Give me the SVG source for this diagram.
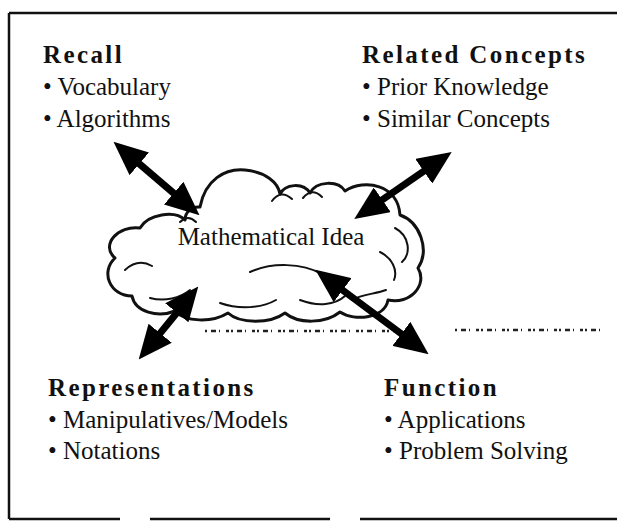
<svg xmlns="http://www.w3.org/2000/svg" width="617" height="522" viewBox="0 0 617 522">
<style>
.h{font-family:"Liberation Serif","Times New Roman",serif;font-size:25px;font-weight:bold;fill:#111;letter-spacing:2.4px}
.t{font-family:"Liberation Serif","Times New Roman",serif;font-size:25px;fill:#111}
.frame{stroke:#111;stroke-width:2.5;fill:none}
.cloud{fill:#fff;stroke:#111;stroke-width:3;stroke-linejoin:round}
.inner{fill:none;stroke:#111;stroke-width:2;stroke-linecap:round}
.shaft{stroke:#000;stroke-width:7;fill:none}
.noise{stroke:#222;stroke-width:2.5;fill:none;stroke-dasharray:2 4 5 3 1 6 3 2}
</style>
<defs>
<marker id="ah" viewBox="0 0 34 30" refX="12" refY="15" markerWidth="34" markerHeight="30" markerUnits="userSpaceOnUse" orient="auto-start-reverse">
<path d="M0,0 L34,15 L0,30 Z" fill="#000"/>
</marker>
</defs>
<g id="frame">
<path class="frame" d="M9,13 H617 M9,13 V519 M9,519 H120 M150,519 H330 M360,519 H617"/>
</g>
<g id="cloud">
<path class="cloud" d="M200,207 C205,180 225,168 245,170 C265,172 278,182 280,194 C285,184 303,182 310,193 C316,181 338,180 345,191 C365,178 398,185 400,215 C420,222 430,250 418,268 C428,285 410,305 388,300 C385,318 355,322 340,312 C325,324 298,324 285,313 C270,324 240,324 228,313 C212,323 185,322 175,311 C158,318 135,312 132,296 C110,296 100,272 115,258 C100,245 118,225 140,228 C148,214 175,210 185,220 C185,212 192,206 200,207 Z"/>
<path class="inner" d="M272,201 Q281,189 292,199 M303,198 Q312,187 322,197 M125,270 Q138,258 152,266 M180,222 Q188,214 196,222 M395,228 C410,236 411,254 402,262 M352,300 C362,294 376,294 386,290 M250,272 C272,262 302,263 322,274 M150,298 C165,302 180,298 190,290 M380,252 C392,258 398,270 394,280 M220,303 C240,310 262,308 276,300 M300,300 C318,307 335,305 345,296"/>
<text class="t" x="271" y="245" text-anchor="middle">Mathematical Idea</text>
</g>
<g id="noise">
<path class="noise" d="M205,331 H395 M455,330 H600"/>
</g>
<g id="recall">
<text class="h" x="43" y="63">Recall</text>
<text class="t" x="43" y="95">• Vocabulary</text>
<text class="t" x="43" y="127">• Algorithms</text>
</g>
<g id="related">
<text class="h" x="362" y="63">Related Concepts</text>
<text class="t" x="362" y="95">• Prior Knowledge</text>
<text class="t" x="362" y="127">• Similar Concepts</text>
</g>
<g id="representations">
<text class="h" x="48" y="396">Representations</text>
<text class="t" x="48" y="428">• Manipulatives/Models</text>
<text class="t" x="48" y="459">• Notations</text>
</g>
<g id="function">
<text class="h" x="384" y="396">Function</text>
<text class="t" x="384" y="428">• Applications</text>
<text class="t" x="384" y="459">• Problem Solving</text>
</g>
<g id="connectors">
<line class="shaft" x1="130.2" y1="156" x2="182.8" y2="201" marker-start="url(#ah)" marker-end="url(#ah)"/>
<line class="shaft" x1="433.6" y1="164.4" x2="372.4" y2="206.6" marker-start="url(#ah)" marker-end="url(#ah)"/>
<line class="shaft" x1="184.4" y1="303.5" x2="152.6" y2="342.5" marker-start="url(#ah)" marker-end="url(#ah)"/>
<line class="shaft" x1="333" y1="283" x2="411" y2="341" marker-start="url(#ah)" marker-end="url(#ah)"/>
</g>
</svg>
